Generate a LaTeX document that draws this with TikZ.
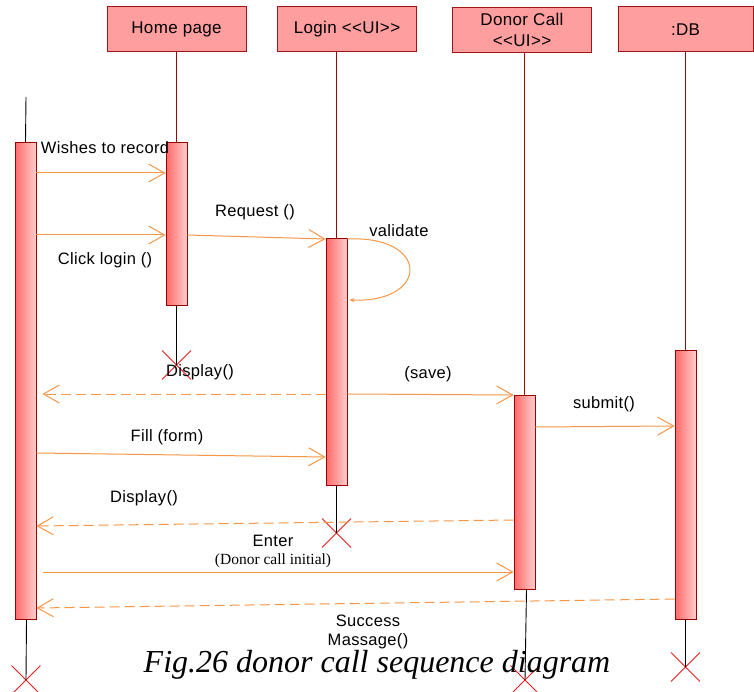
\documentclass[tikz,border=0pt]{standalone}
\usepackage{fontspec}
\setmainfont{Liberation Serif}
\newfontfamily\lblsans[LetterSpace=2]{Liberation Sans}
\usetikzlibrary{arrows.meta,shapes.misc}
\definecolor{hdfill}{RGB}{255,158,158}
\definecolor{hdborder}{RGB}{160,20,20}
\definecolor{barL}{RGB}{255,105,105}
\definecolor{barR}{RGB}{255,205,205}
\definecolor{bardraw}{RGB}{153,0,0}
\definecolor{lifec}{RGB}{150,10,10}
\definecolor{msgc}{RGB}{247,150,70}
\definecolor{xred}{RGB}{230,30,30}
\begin{document}
\begin{tikzpicture}[x=1pt,y=-1pt,
  head/.style={draw=hdborder, fill=hdfill, line width=1pt, minimum width=139pt, minimum height=45pt, inner sep=0pt, align=center, font=\lblsans\fontsize{17}{21}\selectfont},
  actbar/.style={draw=bardraw, line width=0.8pt, left color=barL, right color=barR, minimum width=21pt, inner sep=0pt, anchor=north},
  life/.style={draw=lifec, line width=0.9pt},
  tailline/.style={draw=black, line width=0.9pt},
  msg/.style={draw=msgc, line width=1pt, -{Straight Barb[length=16pt,width=18pt,line width=1pt]}},
  ret/.style={msg, dash pattern=on 10pt off 5pt},
  lbl/.style={inner sep=0pt, font=\lblsans\fontsize{16.5}{20}\selectfont},
  killx/.style={cross out, draw=xred, line width=0.9pt, minimum size=28pt, inner sep=0pt}
]
\useasboundingbox (0,0) rectangle (754,692);

% headers
\node[head] (home) at (176.5,29.5) {Home page};
\node[head] (login) at (347,29.5) {Login \textless\textless UI\textgreater\textgreater};
\node[head] (donor) at (522,30) {Donor Call\\\textless\textless UI\textgreater\textgreater};
\node[head, minimum width=135pt] (db) at (685.5,29.5) {:DB};

% activation bars
\node[actbar, minimum height=477pt] (a0) at (25.5,142) {};
\node[actbar, minimum height=163pt] (hb) at (176.5,142) {};
\node[actbar, minimum height=247pt] (lb) at (336.5,238) {};
\node[actbar, minimum height=194pt] (dcb) at (524.5,395) {};
\node[actbar, minimum height=269pt] (dbb) at (685.5,350) {};

% lifelines
\coordinate (actTop) at (26,97);
\draw[tailline] (actTop) -- (a0.north);
\draw[life] (home.south -| hb.north) -- (hb.north);
\draw[life] (login.south -| lb.north) -- (lb.north);
\draw[life] (donor.south -| dcb.north) -- (dcb.north);
\draw[life] (db.south -| dbb.north) -- (dbb.north);

% destruction marks
\node[killx] (x0) at (26,680) {};
\node[killx] (xh) at (176.5,365) {};
\node[killx] (xl) at (336.5,533) {};
\node[killx] (xd) at (525,680) {};
\node[killx] (xb) at (685.5,667) {};
\draw[tailline] ([xshift=1pt]a0.south) -- (x0.center);
\draw[tailline] (hb.south) -- (xh.center);
\draw[tailline] (lb.south) -- (xl.center);
\draw[tailline] ([xshift=2pt]dcb.south) -- (xd.center);
\draw[tailline] (dbb.south) -- (xb.center);

% messages
\draw[msg] (a0.east |- 0,173) -- (hb.west |- 0,173);
\draw[msg] (a0.east |- 0,235) -- (hb.west |- 0,235);
\draw[msg] (hb.east |- 0,235) -- (lb.west |- 0,239);
\draw[draw=msgc, line width=1pt, -{Stealth[length=5pt,width=4pt]}] (lb.east |- 0,239) .. controls (430,235) and (430,303) .. ([xshift=2pt]lb.east |- 0,300);
\draw[ret] (lb.west |- 0,394) -- ([xshift=6pt]a0.east |- 0,394);
\draw[msg] (lb.east |- 0,394) -- (dcb.west |- 0,395);
\draw[msg] (dcb.east |- 0,427) -- (dbb.west |- 0,426);
\draw[msg] (a0.east |- 0,453) -- (lb.west |- 0,457);
\draw[ret] (dcb.west |- 0,520) -- (a0.east |- 0,526);
\draw[msg] ([xshift=7pt]a0.east |- 0,572) -- (dcb.west |- 0,572);
\draw[ret] (dbb.west |- 0,599) -- (a0.east |- 0,608);

% labels
\node[lbl] (t1) at (105,148) {Wishes to record};
\node[lbl] (t2) at (105,260) {Click login ()};
\node[lbl] (t3) at (255,212) {Request ()};
\node[lbl] (t4) at (399,231) {validate};
\node[lbl] (t5) at (200,372) {Display()};
\node[lbl] (t6) at (428,374) {(save)};
\node[lbl] (t7) at (604,404) {submit()};
\node[lbl] (t8) at (167,437) {Fill (form)};
\node[lbl] (t9) at (144,498) {Display()};
\node[lbl] (t10) at (273,541) {Enter};
\node[inner sep=0pt, font=\fontsize{15.5}{18}\selectfont] (t11) at (273,561) {(Donor call initial)};
\node[lbl] (t12) at (368,621) {Success};
\node[lbl] (t13) at (368,641) {Massage()};
\node[inner sep=0pt, font=\itshape\fontsize{32}{36}\selectfont] (cap) at (377,665) {Fig.26 donor call sequence diagram};
\end{tikzpicture}
\end{document}
